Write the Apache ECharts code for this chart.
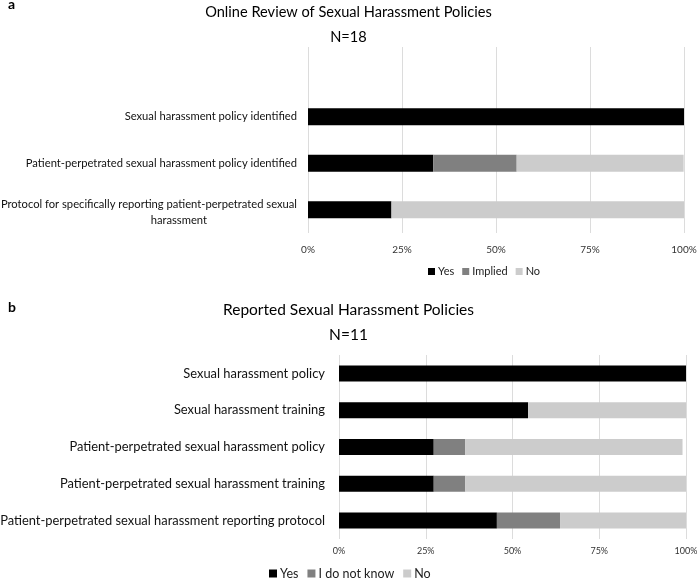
<!DOCTYPE html>
<html>
<head>
<meta charset="utf-8">
<script src="https://cdn.jsdelivr.net/npm/echarts@6/dist/echarts.min.js"></script>
<style>
html,body{margin:0;padding:0;background:#fff;}
#chart{width:697px;height:578px;}
</style>
</head>
<body>
<div id="chart"></div>
<script>
// Panel a: Online review (N=18)
var catsA = ['', 'Sexual harassment policy identified', 'Patient-perpetrated sexual harassment policy identified', 'Protocol for specifically reporting patient-perpetrated sexual harassment'];
var aYes = [null, 100, 33.3, 22.2];
var aImplied = [null, 0, 22.2, 0];
var aNo = [null, 0, 44.4, 77.8];
// Panel b: Reported (N=11)
var catsB = ['Sexual harassment policy', 'Sexual harassment training', 'Patient-perpetrated sexual harassment policy', 'Patient-perpetrated sexual harassment training', 'Patient-perpetrated sexual harassment reporting protocol'];
var bYes = [100, 54.5, 27.3, 27.3, 45.5];
var bIDK = [0, 0, 9.1, 9.1, 18.2];
var bNo = [0, 45.5, 62.6, 63.6, 36.4];
var xTicks = [0, 25, 50, 75, 100];

var FONT = 'Lato';
var C_YES = '#000000', C_MID = '#808080', C_NO = '#cccccc';
var chart = echarts.init(document.getElementById('chart'), null, {renderer: 'canvas'});

function valueAxis(gi, fs, margin) {
  return {
    type: 'value', gridIndex: gi, min: xTicks[0], max: xTicks[xTicks.length - 1], interval: xTicks[1] - xTicks[0],
    axisLine: {show: false}, axisTick: {show: false},
    splitLine: {lineStyle: {color: '#dcdcdc', width: 1}},
    axisLabel: {formatter: '{value}%', fontFamily: FONT, fontSize: fs, color: '#333', margin: margin}
  };
}

var option = {
  backgroundColor: '#fff',
  animation: false,
  title: [
    {text: 'a', left: 3, top: -8, textStyle: {fontFamily: FONT, fontWeight: 'bold', fontSize: 14, color: '#000'}},
    {text: 'Online Review of Sexual Harassment Policies', left: 'center', top: 0, textStyle: {fontFamily: FONT, fontWeight: 'normal', fontSize: 14.6, color: '#000'}},
    {text: 'N=18', left: 'center', top: 25, textStyle: {fontFamily: FONT, fontWeight: 'normal', fontSize: 14.6, color: '#000'}},
    {text: 'b', left: 3, top: 295, textStyle: {fontFamily: FONT, fontWeight: 'bold', fontSize: 14, color: '#000'}},
    {text: 'Reported Sexual Harassment Policies', left: 'center', top: 297, textStyle: {fontFamily: FONT, fontWeight: 'normal', fontSize: 15.5, color: '#000'}},
    {text: 'N=11', left: 'center', top: 322, textStyle: {fontFamily: FONT, fontWeight: 'normal', fontSize: 15.5, color: '#000'}}
  ],
  legend: [
    {data: ['Yes', 'Implied', 'No'], left: 428, top: 266, padding: 0, icon: 'rect', itemWidth: 7, itemHeight: 7, itemGap: 8,
     textStyle: {fontFamily: FONT, fontSize: 11, color: '#222', padding: [0, 0, 0, -2]}},
    {data: ['Yes', 'I do not know', 'No'], left: 269, top: 567, padding: 0, icon: 'rect', itemWidth: 8, itemHeight: 8, itemGap: 9,
     textStyle: {fontFamily: FONT, fontSize: 12.5, color: '#222', padding: [0, 0, 0, -2]}}
  ],
  grid: [
    {left: 308, right: 13, top: 47, bottom: 345, containLabel: false, outerBoundsMode: 'none'},
    {left: 339, right: 11, top: 355, bottom: 39, containLabel: false, outerBoundsMode: 'none'}
  ],
  xAxis: [valueAxis(0, 10, 12), valueAxis(1, 9, 8)],
  yAxis: [
    {type: 'category', gridIndex: 0, data: catsA, inverse: true,
     axisLine: {show: false}, axisTick: {show: false},
     axisLabel: {fontFamily: FONT, fontSize: 11.2, color: '#111', margin: 11,
       formatter: function (v) {
         if (v.indexOf('Protocol') === 0) {
           return '{c| }\n{a|Protocol for specifically reporting patient-perpetrated sexual}\n{b|harassment}';
         }
         return v;
       },
       rich: {
         c: {fontSize: 4, lineHeight: 6},
         a: {fontFamily: FONT, fontSize: 11.2, color: '#111', lineHeight: 16},
         b: {fontFamily: FONT, fontSize: 11.2, color: '#111', lineHeight: 16, align: 'right', padding: [0, 90, 0, 0]}
       }
     }},
    {type: 'category', gridIndex: 1, data: catsB, inverse: true,
     axisLine: {show: false}, axisTick: {show: false},
     axisLabel: {fontFamily: FONT, fontSize: 12.9, color: '#111', margin: 14}}
  ],
  series: [
    {name: 'Yes', type: 'bar', stack: 'a', xAxisIndex: 0, yAxisIndex: 0, data: aYes, barWidth: 17, itemStyle: {color: C_YES}},
    {name: 'Implied', type: 'bar', stack: 'a', xAxisIndex: 0, yAxisIndex: 0, data: aImplied, barWidth: 17, itemStyle: {color: C_MID}},
    {name: 'No', type: 'bar', stack: 'a', xAxisIndex: 0, yAxisIndex: 0, data: aNo, barWidth: 17, itemStyle: {color: C_NO}},
    {name: 'Yes', type: 'bar', stack: 'b', xAxisIndex: 1, yAxisIndex: 1, data: bYes, barWidth: 16, itemStyle: {color: C_YES}},
    {name: 'I do not know', type: 'bar', stack: 'b', xAxisIndex: 1, yAxisIndex: 1, data: bIDK, barWidth: 16, itemStyle: {color: C_MID}},
    {name: 'No', type: 'bar', stack: 'b', xAxisIndex: 1, yAxisIndex: 1, data: bNo, barWidth: 16, itemStyle: {color: C_NO}}
  ]
};
chart.setOption(option);
</script>
</body>
</html>
